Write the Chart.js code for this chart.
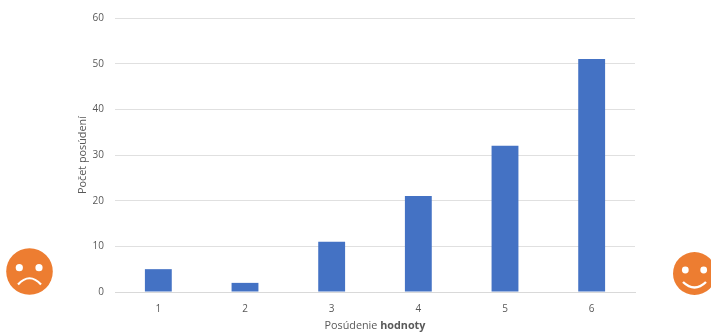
<!DOCTYPE html>
<html>
<head>
<meta charset="utf-8">
<script src="https://cdn.jsdelivr.net/npm/chart.js@4"></script>
<style>
  html, body { margin: 0; padding: 0; background: #fff; overflow: hidden; }
  #wrap { position: relative; width: 711px; height: 332px; }
  .face { position: absolute; }
</style>
</head>
<body>
<div id="wrap">
  <canvas id="myChart" width="711" height="332"></canvas>
  <svg class="face" style="left:6px;top:248px" width="47" height="47" viewBox="0 0 47 47">
    <circle cx="23.5" cy="23.5" r="23.3" fill="#ed7d31"/>
    <circle cx="13.3" cy="19.7" r="3.6" fill="#fff"/>
    <circle cx="33" cy="19.7" r="3.6" fill="#fff"/>
    <path d="M12 36.5 Q23.5 24 35 36.5" fill="none" stroke="#fff" stroke-width="2.2"/>
  </svg>
  <svg class="face" style="left:673px;top:252px" width="38" height="44" viewBox="0 0 38 44">
    <circle cx="21.5" cy="21.5" r="21.5" fill="#ed7d31"/>
    <circle cx="12.3" cy="18" r="3.4" fill="#fff"/>
    <circle cx="30.7" cy="18" r="3.4" fill="#fff"/>
    <path d="M10 30 Q21.5 41 33 30" fill="none" stroke="#fff" stroke-width="2.4"/>
  </svg>
</div>
<script>
const categories = ['1', '2', '3', '4', '5', '6'];
const counts = [5, 2, 11, 21, 32, 51];
const yTitle = 'Počet posúdení';
const xTitleParts = ['Posúdenie ', 'hodnoty'];

const textColor = '#595959';
const fontFamily = '"Open Sans", sans-serif';

// Chart.js titles can't mix weights, so the x title is drawn here
const xTitlePlugin = {
  id: 'xTitle',
  afterDraw(chart) {
    const ctx = chart.ctx;
    const x = chart.scales.x;
    ctx.save();
    ctx.fillStyle = textColor;
    ctx.textBaseline = 'middle';
    ctx.textAlign = 'left';
    ctx.font = '10.8px ' + fontFamily;
    const w1 = ctx.measureText(xTitleParts[0]).width;
    ctx.font = 'bold 10.8px ' + fontFamily;
    const w2 = ctx.measureText(xTitleParts[1]).width;
    const left = (x.left + x.right) / 2 - (w1 + w2) / 2;
    const y = 326;
    ctx.font = '10.8px ' + fontFamily;
    ctx.fillText(xTitleParts[0], left, y);
    ctx.font = 'bold 10.8px ' + fontFamily;
    ctx.fillText(xTitleParts[1], left + w1, y);
    ctx.restore();
  }
};

document.addEventListener('DOMContentLoaded', () => {
  const ctx = document.getElementById('myChart').getContext('2d');

  new Chart(ctx, {
    type: 'bar',
    data: {
      labels: categories,
      datasets: [{
        label: yTitle,
        data: counts,
        backgroundColor: '#4472c4',
        barPercentage: 0.31,
        categoryPercentage: 1
      }]
    },
    options: {
      responsive: false,
      animation: false,
      layout: {
        padding: { left: 76, right: 76, top: 18, bottom: 0 }
      },
      scales: {
        x: {
          grid: { display: false },
          border: { color: '#d9d9d9', width: 1 },
          ticks: {
            color: textColor,
            font: { family: fontFamily, size: 10 },
            padding: 3,
            maxRotation: 0
          },
          afterFit(scale) { scale.height = 40; }
        },
        y: {
          min: 0,
          max: 60,
          grid: {
            color: '#e0e0e0',
            drawTicks: false
          },
          border: { display: false },
          ticks: {
            stepSize: 10,
            color: textColor,
            font: { family: fontFamily, size: 10 },
            padding: 11
          },
          title: {
            display: true,
            text: yTitle,
            color: textColor,
            font: { family: fontFamily, size: 10.8 },
            padding: 0
          },
          afterFit(scale) { scale.width = 39; }
        }
      },
      plugins: {
        legend: { display: false },
        tooltip: { enabled: false }
      }
    },
    plugins: [xTitlePlugin]
  });
});
</script>
</body>
</html>
